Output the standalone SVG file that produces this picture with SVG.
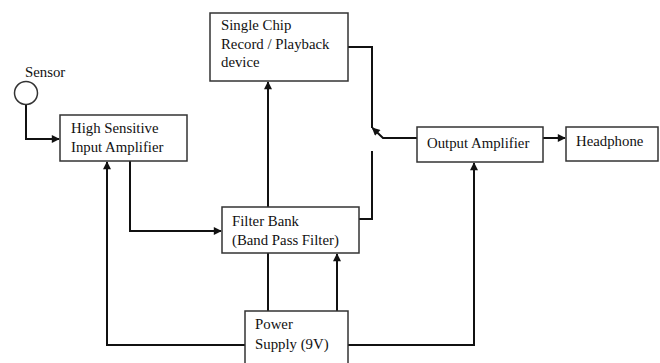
<svg xmlns="http://www.w3.org/2000/svg" width="660" height="363" viewBox="0 0 660 363">
<style>
.box{fill:#fff;stroke:#333;stroke-width:1.5}
.t{font-family:"Liberation Serif","Times New Roman",serif;font-size:14.8px;fill:#111}
.c{fill:none;stroke:#111;stroke-width:2}
</style>
<defs>
<marker id="ah" viewBox="0 0 10 10" refX="9" refY="5" markerWidth="9" markerHeight="8" markerUnits="userSpaceOnUse" orient="auto">
<path d="M0,0 L10,5 L0,10 Z" fill="#111"/>
</marker>
</defs>
<rect width="660" height="363" fill="#fff"/>
<g id="connectors">
<path class="c" d="M26,104 V139 H59" marker-end="url(#ah)"/>
<path class="c" d="M130,161 V231 H221" marker-end="url(#ah)"/>
<path class="c" d="M268,207 V82" marker-end="url(#ah)"/>
<path class="c" d="M268,253 V311"/>
<path class="c" d="M337,311 V254" marker-end="url(#ah)"/>
<path class="c" d="M245,345 H107 V162" marker-end="url(#ah)"/>
<path class="c" d="M348,345 H474 V163" marker-end="url(#ah)"/>
<path class="c" d="M348,47 H372 V128"/>
<path class="c" d="M417,138 H383 L372.5,128" marker-end="url(#ah)"/>
<path class="c" d="M372,151 V219 H359"/>
<path class="c" d="M543,138 H565" marker-end="url(#ah)"/>
</g>
<g id="sensor">
<circle cx="26" cy="93" r="11.5" fill="#fff" stroke="#333" stroke-width="1.5"/>
<text class="t" x="25" y="77">Sensor</text>
</g>
<g id="input-amp">
<rect class="box" x="60" y="115" width="127" height="46"/>
<text class="t" x="71" y="133">High Sensitive</text>
<text class="t" x="71" y="152">Input Amplifier</text>
</g>
<g id="record-playback">
<rect class="box" x="210" y="13" width="138" height="68"/>
<text class="t" x="221" y="30">Single Chip</text>
<text class="t" x="221" y="49">Record / Playback</text>
<text class="t" x="221" y="67">device</text>
</g>
<g id="filter-bank">
<rect class="box" x="222" y="207" width="137" height="46"/>
<text class="t" x="232" y="226">Filter Bank</text>
<text class="t" x="232" y="245">(Band Pass Filter)</text>
</g>
<g id="output-amp">
<rect class="box" x="417" y="127" width="126" height="35"/>
<text class="t" x="427" y="148">Output Amplifier</text>
</g>
<g id="headphone">
<rect class="box" x="566" y="127" width="92" height="34"/>
<text class="t" x="576" y="146">Headphone</text>
</g>
<g id="power-supply">
<rect class="box" x="245" y="311" width="103" height="60"/>
<text class="t" x="255" y="329">Power</text>
<text class="t" x="255" y="349">Supply (9V)</text>
</g>
</svg>
